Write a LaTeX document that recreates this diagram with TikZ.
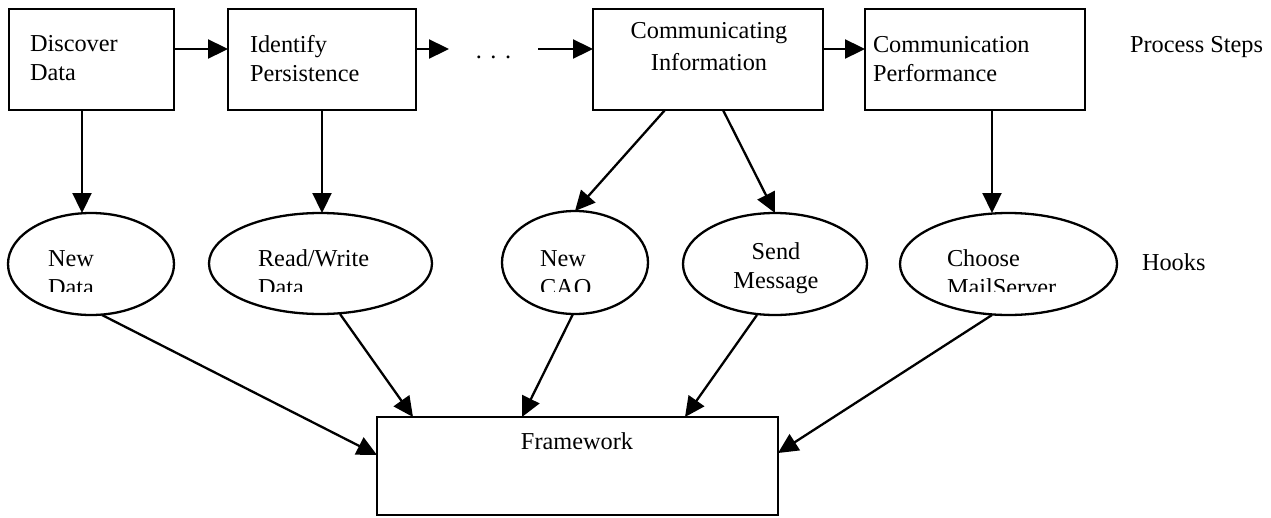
\documentclass[tikz,border=0pt]{standalone}
\usepackage{fontspec}
\setmainfont{Liberation Serif}
\usetikzlibrary{arrows.meta,shapes.geometric}
\begin{document}
\begin{tikzpicture}[x=1pt,y=-1pt,
  every node/.style={inner sep=0pt, outer sep=0pt},
  txt/.style={font=\fontsize{24.3}{29}\selectfont, align=left, anchor=north west},
  ctxt/.style={font=\fontsize{24.3}{29}\selectfont, align=center, anchor=north},
  stepbox/.style={draw, line width=2.7pt, minimum width=#1, minimum height=101pt},
  hook/.style={draw, ellipse, line width=2.3pt},
  arr/.style={line width=2.3pt, -{Triangle[length=20pt,width=19pt]}},
]
\useasboundingbox (0,0) rectangle (1271,517);

% process steps
\node[stepbox=165pt] (b1) at (91.5,59.5) {};
\node[stepbox=188pt] (b2) at (322,59.5) {};
\node[stepbox=230pt] (b3) at (708,59.5) {};
\node[stepbox=220pt] (b4) at (975,59.5) {};

\node[txt] (t1) at (30,35) {Discover\\Data};
\node[txt] (t2) at (250,35) {Identify\\Persistence};
\node[ctxt] (t3) at (709,22) {Communicating\\[3pt]Information};
\node[txt] (t4) at (873,36) {Communication\\Performance};
\node[txt] (lp) at (1130,36) {Process Steps};

\node[font=\fontsize{24.3}{29}\selectfont, minimum width=89pt,
      text height=19pt, text depth=0pt] (dots) at (493.5,49)
      {.\hspace{8.5pt}.\hspace{8.5pt}.};

% hooks
\node[hook, minimum width=166pt, minimum height=102pt] (h1) at (91,264) {};
\node[hook, minimum width=223pt, minimum height=101pt] (h2) at (320.5,263.5) {};
\node[hook, minimum width=146pt, minimum height=103pt] (h3) at (575,262.5) {};
\node[hook, minimum width=184pt, minimum height=102pt] (h4) at (775,264) {};
\node[hook, minimum width=217pt, minimum height=102pt] (h5) at (1008.5,264) {};

\begin{scope}
  \clip (0,0) rectangle (1271,291.5);
  \node[txt] (ht1) at (48,251) {New\\Data};
  \node[txt] (ht2) at (258,250) {Read/Write\\Data};
  \node[txt] (ht3) at (540,251) {New\\CAO};
  \node[txt] (ht5) at (947,250) {Choose\\MailServer};
\end{scope}
\node[ctxt] (ht4) at (776,242.5) {Send\\Message};
\node[txt] (lh) at (1142,253.5) {Hooks};

% framework
\node[draw, line width=2.7pt, minimum width=401pt, minimum height=98pt] (fw) at (577.5,466) {};
\node[ctxt] (fwt) at (577,433) {Framework};

% step sequence
\draw[arr] ([yshift=10.5pt]b1.east) -- ([yshift=10.5pt]b2.west);
\draw[arr] ([yshift=10.5pt]b2.east) -- (dots.west);
\draw[arr] (dots.east) -- ([yshift=10.5pt]b3.west);
\draw[arr] ([yshift=10.5pt]b3.east) -- ([yshift=10.5pt]b4.west);

% steps to hooks
\draw[arr] ([xshift=-9.5pt]b1.south) -- ([xshift=-9.5pt]b1.south |- h1.north);
\draw[arr] (b2.south) -- (b2.south |- h2.north);
\draw[arr] ([xshift=-43pt]b3.south) -- (h3.north);
\draw[arr] ([xshift=15pt]b3.south) -- (h4.north);
\draw[arr] ([xshift=17pt]b4.south) -- ([xshift=17pt]b4.south |- h5.north);

% hooks to framework
\draw[arr] ([xshift=11pt]h1.south) -- ([yshift=11pt]fw.west);
\draw[arr] ([xshift=19.5pt]h2.south) -- ([xshift=36pt]fw.north west);
\draw[arr] ([xshift=-2pt]h3.south) -- ([xshift=145pt]fw.north west);
\draw[arr] ([xshift=-18pt]h4.south) -- ([xshift=308pt]fw.north west);
\draw[arr] ([xshift=-16.5pt]h5.south) -- ([yshift=13pt]fw.east);
\end{tikzpicture}
\end{document}
